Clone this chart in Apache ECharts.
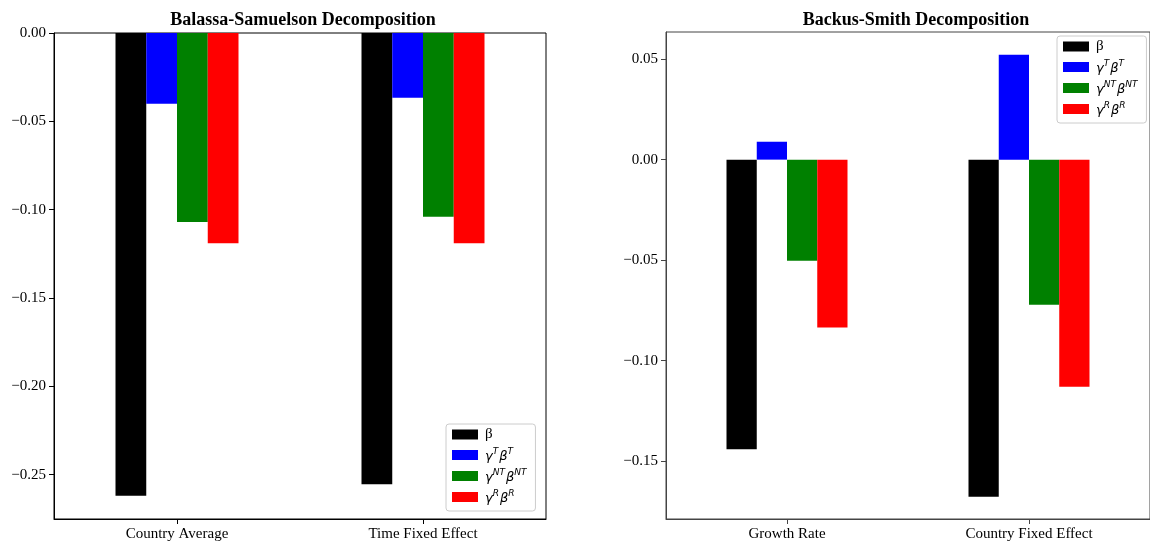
<!DOCTYPE html>
<html>
<head>
<meta charset="utf-8">
<script src="https://cdn.jsdelivr.net/npm/echarts@6/dist/echarts.min.js"></script>
<style>
  html, body { margin: 0; padding: 0; background: #fff; }
  #chart { width: 1150px; height: 544px; }
</style>
</head>
<body>
<div id="chart"></div>
<script>
// Balassa-Samuelson panel
const bsCategories = ['Country Average', 'Time Fixed Effect'];
const bsBeta = [-0.2620, -0.2555];
const bsTradable = [-0.0400, -0.0367];
const bsNonTradable = [-0.1070, -0.1040];
const bsRelative = [-0.1190, -0.1190];
const bsTicks = [0, -0.05, -0.10, -0.15, -0.20, -0.25];

// Backus-Smith panel
const smCategories = ['Growth Rate', 'Country Fixed Effect'];
const smBeta = [-0.1441, -0.1677];
const smTradable = [0.0089, 0.0522];
const smNonTradable = [-0.0503, -0.0722];
const smRelative = [-0.0835, -0.1130];
const smTicks = [0.05, 0, -0.05, -0.10, -0.15];

const seriesNames = ['β', 'γTβT', 'γNTβNT', 'γRβR'];
const seriesColors = ['#000000', '#0000ff', '#008000', '#ff0000'];

const serif = '"Liberation Serif", "DejaVu Serif", serif';
const mathFont = '"DejaVu Sans", sans-serif';

// legend labels with superscripts
const legendRich = {
  up: { fontFamily: serif, fontSize: 15, color: '#000', lineHeight: 16 },
  m: { fontFamily: mathFont, fontStyle: 'italic', fontSize: 13, color: '#000', lineHeight: 16, verticalAlign: 'bottom' },
  s: { fontFamily: mathFont, fontStyle: 'italic', fontSize: 9, color: '#000', lineHeight: 16, verticalAlign: 'top', padding: [0, 1, 0, 0] }
};
function legendLabel(name) {
  if (name === 'β') return '{up|β}';
  if (name === 'γTβT') return '{m|γ}{s|T}{m|β}{s|T}';
  if (name === 'γNTβNT') return '{m|γ}{s|NT}{m|β}{s|NT}';
  if (name === 'γRβR') return '{m|γ}{s|R}{m|β}{s|R}';
  return name;
}

function fmt(v) {
  const s = Math.abs(v) < 1e-9 ? '0.00' : v.toFixed(2);
  return s.replace('-', '\u2212');
}

function legendFor(left, top) {
  return {
    data: seriesNames.map(n => ({ name: n, icon: 'rect' })),
    orient: 'vertical',
    left: left,
    top: top,
    itemWidth: 26,
    itemHeight: 10,
    itemGap: 5,
    padding: [3, 8, 6, 6],
    backgroundColor: 'rgba(255,255,255,0.85)',
    borderColor: '#cccccc',
    borderWidth: 1,
    borderRadius: 3,
    selectedMode: false,
    formatter: legendLabel,
    textStyle: { rich: legendRich, padding: [0, 0, 0, 2] }
  };
}

function xAxisFor(gridIndex, cats, lineColor) {
  return {
    type: 'category',
    gridIndex: gridIndex,
    data: cats,
    boundaryGap: true,
    axisLine: { show: true, onZero: false, lineStyle: { color: lineColor, width: 1 } },
    axisTick: { show: true, alignWithLabel: true, length: 5, lineStyle: { color: lineColor } },
    axisLabel: { fontFamily: serif, fontSize: 15, color: '#000', margin: 8 },
    splitLine: { show: false }
  };
}

function yAxisFor(gridIndex, min, max, ticks, lineColor) {
  return {
    type: 'value',
    gridIndex: gridIndex,
    min: min,
    max: max,
    axisLine: { show: true, onZero: false, lineStyle: { color: lineColor, width: 1 } },
    axisTick: { show: true, length: 5, lineStyle: { color: lineColor }, customValues: ticks },
    axisLabel: { fontFamily: serif, fontSize: 15, color: '#000', margin: 8, formatter: fmt, customValues: ticks },
    splitLine: { show: false }
  };
}

function barSeries(axisIndex, valueSets) {
  return valueSets.map((vals, i) => ({
    name: seriesNames[i],
    type: 'bar',
    xAxisIndex: axisIndex,
    yAxisIndex: axisIndex,
    data: vals,
    barGap: '0%',
    barCategoryGap: '50%',
    itemStyle: { color: seriesColors[i] },
    emphasis: { disabled: true },
    animation: false
  }));
}

const chart = echarts.init(document.getElementById('chart'), null, { renderer: 'canvas' });
chart.setOption({
  backgroundColor: '#ffffff',
  animation: false,
  title: [
    { text: 'Balassa-Samuelson Decomposition', left: 298, top: 6, textAlign: 'center',
      textStyle: { fontFamily: serif, fontWeight: 'bold', fontSize: 18, color: '#000' } },
    { text: 'Backus-Smith Decomposition', left: 911, top: 6, textAlign: 'center',
      textStyle: { fontFamily: serif, fontWeight: 'bold', fontSize: 18, color: '#000' } }
  ],
  grid: [
    { left: 54, right: 604, top: 33, bottom: 25, show: true, borderColor: '#000', borderWidth: 1, containLabel: false },
    { left: 666, right: 0, top: 32, bottom: 25, show: true, borderColor: '#444', borderWidth: 1, containLabel: false }
  ],
  legend: [legendFor(446, 424), legendFor(1057, 36)],
  xAxis: [
    xAxisFor(0, bsCategories, '#000'),
    xAxisFor(1, smCategories, '#444')
  ],
  yAxis: [
    yAxisFor(0, -0.2751, 0, bsTicks, '#000'),
    yAxisFor(1, -0.1788, 0.0635, smTicks, '#444')
  ],
  series: [
    ...barSeries(0, [bsBeta, bsTradable, bsNonTradable, bsRelative]),
    ...barSeries(1, [smBeta, smTradable, smNonTradable, smRelative])
  ]
});
</script>
</body>
</html>
